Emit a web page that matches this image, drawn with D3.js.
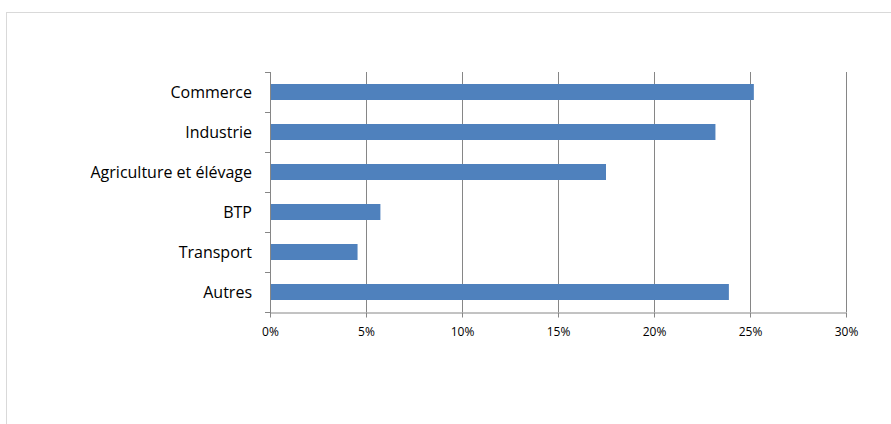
<!DOCTYPE html>
<html>
<head>
<meta charset="utf-8">
<script src="https://cdn.jsdelivr.net/npm/d3@7"></script>
<style>
  body { margin: 0; background: #fff; }
  svg { display: block; }
</style>
</head>
<body>
<script>
// categories, top to bottom
var categories = ["Commerce", "Industrie", "Agriculture et élévage", "BTP", "Transport", "Autres"];
var values = [25.2, 23.2, 17.5, 5.75, 4.56, 23.9];
var tickValues = [0, 5, 10, 15, 20, 25, 30];

var width = 891, height = 424;
var plotLeft = 270, plotRight = 846, plotTop = 72, plotBottom = 312;

var svg = d3.select("body").append("svg")
    .attr("width", width)
    .attr("height", height);

// chart area border
svg.append("rect")
    .attr("x", 6.5).attr("y", 12.5)
    .attr("width", 900).attr("height", 430)
    .attr("fill", "none")
    .attr("stroke", "#d9d9d9");

var x = d3.scaleLinear().domain([0, 30]).range([plotLeft, plotRight]);
var y = d3.scaleBand().domain(categories).range([plotTop, plotBottom]).paddingInner(0.6).paddingOuter(0.3);

// vertical gridlines
svg.append("g").selectAll("line")
    .data(tickValues.slice(1))
    .join("line")
    .attr("x1", function(d) { return Math.round(x(d)) + 0.5; })
    .attr("x2", function(d) { return Math.round(x(d)) + 0.5; })
    .attr("y1", plotTop).attr("y2", plotBottom)
    .attr("stroke", "#868686");

// bars
svg.append("g").selectAll("rect")
    .data(categories)
    .join("rect")
    .attr("x", x(0))
    .attr("y", function(d) { return y(d); })
    .attr("width", function(d, i) { return x(values[i]) - x(0); })
    .attr("height", y.bandwidth())
    .attr("fill", "#4f81bd");

// x axis
var xAxis = svg.append("g")
    .attr("transform", "translate(0," + (plotBottom + 0.5) + ")")
    .call(d3.axisBottom(x).tickValues(tickValues).tickFormat(function(d) { return d + "%"; }).tickSize(5).tickSizeOuter(0).tickPadding(10));
xAxis.select(".domain").attr("stroke", "#868686");
xAxis.selectAll(".tick line").attr("stroke", "#868686");
xAxis.selectAll("text")
    .attr("fill", "#000")
    .style("font-family", "'Open Sans', sans-serif")
    .style("font-size", "12px");

// y axis: ticks sit between categories
var yEdges = d3.range(categories.length + 1).map(function(i) { return plotTop + i * (plotBottom - plotTop) / categories.length; });
svg.append("line")
    .attr("x1", plotLeft + 0.5).attr("x2", plotLeft + 0.5)
    .attr("y1", plotTop).attr("y2", plotBottom + 5)
    .attr("stroke", "#868686");
svg.append("g").selectAll("line")
    .data(yEdges)
    .join("line")
    .attr("x1", plotLeft - 5).attr("x2", plotLeft)
    .attr("y1", function(d) { return Math.round(d) + 0.5; })
    .attr("y2", function(d) { return Math.round(d) + 0.5; })
    .attr("stroke", "#868686");

svg.append("g").selectAll("text")
    .data(categories)
    .join("text")
    .attr("x", 252)
    .attr("y", function(d) { return y(d) + y.bandwidth() / 2; })
    .attr("dy", "0.35em")
    .attr("text-anchor", "end")
    .style("font-family", "'Open Sans', sans-serif")
    .style("font-size", "16px")
    .attr("fill", "#000")
    .text(function(d) { return d; });
</script>
</body>
</html>
